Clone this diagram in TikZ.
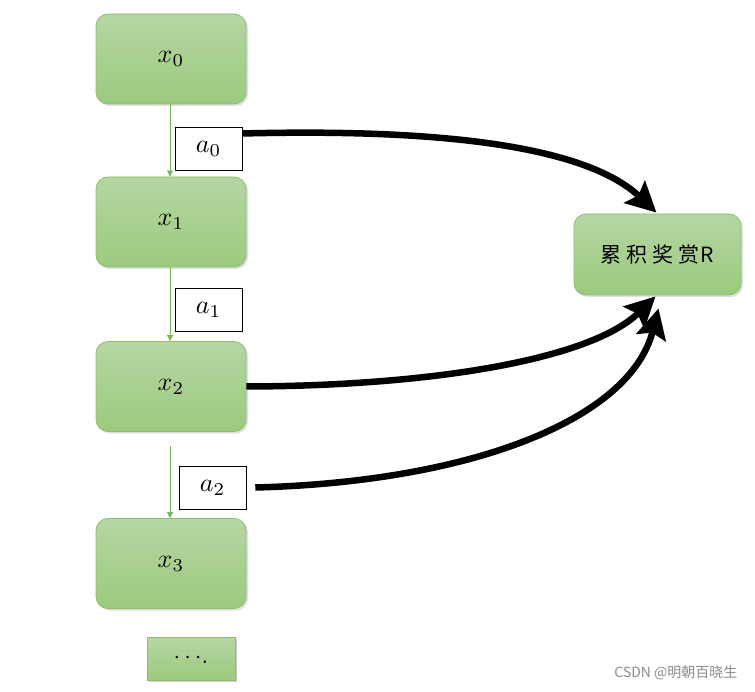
\RequirePackage{fix-cm}
\documentclass[tikz,border=0pt]{standalone}
\usepackage{graphicx}
\usepackage{fontspec}
\newfontfamily\cjk{Noto Sans CJK SC}
\usetikzlibrary{arrows.meta,shadows}
\newcommand{\mx}[1]{\raisebox{-3pt}{\scalebox{2.6}{$#1$}}}
\definecolor{gtop}{HTML}{B5D6A3}
\definecolor{gbot}{HTML}{9CCA7E}
\definecolor{gedge}{HTML}{8DBF6F}
\definecolor{garrow}{HTML}{7DB35E}
\tikzset{
  state/.style={rectangle, rounded corners=12pt, minimum width=150pt, minimum height=90pt,
    top color=gtop, bottom color=gbot, draw=gedge, line width=0.8pt,
    drop shadow={opacity=0.25, shadow xshift=2pt, shadow yshift=-2pt}},
  act/.style={rectangle, draw=black, fill=white, line width=0.6pt, minimum width=67pt, minimum height=43pt},
  trans/.style={draw=garrow, line width=0.7pt, -{Triangle[length=6pt,width=6pt]}},
  big/.style={draw=black, line width=6.5pt, -{Stealth[length=30pt,width=30pt,inset=5pt]}},
}
\begin{document}
\begin{tikzpicture}[x=1pt,y=1pt]
\useasboundingbox[fill=white] (0,0) rectangle (755,-692);
\node[state] (x0) at (171,-59) {\mx{x_0}};
\node[state] (x1) at (171,-222) {\mx{x_1}};
\node[state] (x2) at (171,-386.5) {\mx{x_2}};
\node[state] (x3) at (171,-563.5) {\mx{x_3}};
\node[state, minimum width=167pt, minimum height=81pt] (R) at (657.5,-254.5) {\cjk\fontsize{21}{24}\selectfont 累\hspace{5pt}积\hspace{5pt}奖\hspace{5pt}赏\hspace{1pt}R};
\node[state, rounded corners=0pt, minimum width=88pt, minimum height=43pt, drop shadow={opacity=0.2, shadow xshift=2pt, shadow yshift=-2pt}] (dots) at (191,-658.5) {\scalebox{2.4}{$\cdots$.}};
\node[act] (a0) at (208.5,-148.5) {\mx{a_0}};
\node[act] (a1) at (208.5,-309.5) {\mx{a_1}};
\node[act] (a2) at (212.5,-487.5) {\mx{a_2}};
\coordinate (s2) at (170,-446);
\draw[trans] ([xshift=-1pt]x0.south) -- ([xshift=-1pt]x1.north);
\draw[trans] ([xshift=-1pt]x1.south) -- ([xshift=-1pt]x2.north);
\draw[trans] (s2) -- ([xshift=-1pt]x3.north);
\draw[big] ([yshift=15pt]a0.east) .. controls (460,-128) and (590,-150) .. ([xshift=-1pt,yshift=1pt]R.north);
\draw[big] (x2.east) .. controls (430,-386) and (590,-360) .. ([xshift=-2pt,yshift=-1pt]R.south);
\draw[big] ([xshift=9pt]a2.east) .. controls (470,-482) and (630,-420) .. ([xshift=1pt,yshift=-13pt]R.south);
\node[font=\cjk\fontsize{14}{16}\selectfont, text=black!45, anchor=east] (wm) at (741,-673) {CSDN @明朝百晓生};
\end{tikzpicture}
\end{document}
